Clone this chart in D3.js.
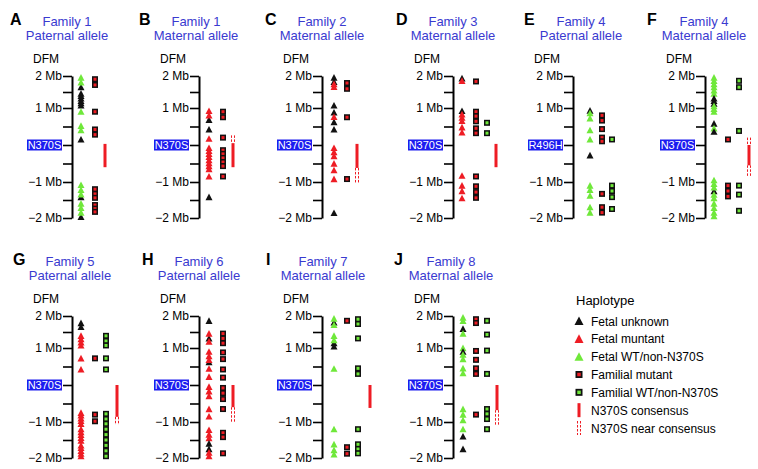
<!DOCTYPE html>
<html lang="en">
<head>
<meta charset="utf-8">
<title>Haplotype panels</title>
<script src="https://cdn.jsdelivr.net/npm/d3@7"></script>
<style>
  body { margin: 0; background: #fff; }
  svg { display: block; font-family: "Liberation Sans", Arial, Helvetica, sans-serif; }
</style>
</head>
<body>
<script>
// panel headings
var letters = ["A", "B", "C", "D", "E", "F", "G", "H", "I", "J"];
var families = ["Family 1", "Family 1", "Family 2", "Family 3", "Family 4", "Family 4", "Family 5", "Family 6", "Family 7", "Family 8"];
var alleles = ["Paternal allele", "Maternal allele", "Maternal allele", "Maternal allele", "Paternal allele",
  "Maternal allele", "Paternal allele", "Paternal allele", "Maternal allele", "Maternal allele"];
var mutations = ["N370S", "N370S", "N370S", "N370S", "R496H", "N370S", "N370S", "N370S", "N370S", "N370S"];
var tickValues = [2, 1.5, 1, 0.5, 0, -0.5, -1, -1.5, -2];
var tickLabels = ["2 Mb", "", "1 Mb", "", "", "", "\u22121 Mb", "", "\u22122 Mb"];

// fetal haplotypes (Mb from mutation): k = unknown, r = mutant, g = WT/non-N370S
var fetalA = [["k",1.65],["g",1.95],["g",1.8],["k",1.45],["k",1.38],["k",1.3],["k",1.22],["k",1.15],["k",1.08],["g",0.9],
  ["k",0.15],["g",0.52],["g",0.4],["k",-1.42],["g",-1.08],["g",-1.22],["g",-1.34],["k",-1.97],["g",-1.6],["g",-1.72],["g",-1.85]];
var fetalB = [["k",0.68],["r",0.92],["r",0.8],["k",0.42],["r",0.17],["r",-0.08],["r",-0.16],["r",-0.24],["r",-0.32],["r",-0.41],
  ["r",-0.49],["r",-0.57],["r",-0.65],["r",-0.85],["k",-1.42]];
var fetalC = [["k",1.95],["k",1.82],["r",1.75],["r",1.66],["k",1.08],["k",0.88],["k",0.62],["r",0.76],["k",0.42],["r",-0.08],
  ["r",-0.19],["r",-0.3],["r",-0.5],["r",-0.68],["r",-0.92],["k",-1.86]];
var fetalD = [["k",1.93],["r",1.85],["k",0.92],["r",0.83],["r",0.74],["r",0.65],["r",0.48],["r",0.34],["r",-0.83],["r",-1.1],
  ["r",-1.25],["r",-1.45]];
var fetalE = [["k",0.93],["g",0.86],["g",0.72],["g",0.4],["g",0.15],["k",-0.28],["g",-1.1],["g",-1.22],["g",-1.38],["g",-1.7],["g",-1.85]];
var fetalF = [["g",1.95],["g",1.85],["g",1.75],["g",1.65],["g",1.55],["g",1.45],["k",1.3],["k",1.22],["k",1.14],["g",1.06],
  ["g",0.98],["g",0.9],["k",0.58],["g",0.45],["k",0.36],["g",-0.95],["g",-1.05],["k",-1.25],["g",-1.15],["g",-1.35],
  ["g",-1.45],["g",-1.6],["g",-1.72],["g",-1.85],["g",-1.95]];
var fetalG = [["k",1.78],["k",1.66],["r",1.38],["r",1.28],["r",1.18],["r",1.08],["r",0.72],["r",0.42],["r",-0.75],["r",-0.82],
  ["r",-0.9],["r",-0.97],["r",-1.05],["r",-1.2],["r",-1.28],["r",-1.36],["r",-1.44],["r",-1.52],["r",-1.65],["r",-1.72],
  ["r",-1.8],["r",-1.88],["r",-1.95]];
var fetalH = [["k",1.85],["k",1.3],["r",1.45],["r",1.2],["k",0.62],["r",0.9],["r",0.78],["r",0.68],["r",0.44],["r",0.22],
  ["r",-0.05],["r",-0.17],["r",-0.3],["r",-0.65],["r",-0.85],["r",-1.22],["r",-1.35],["r",-1.45],["k",-1.6],["k",-1.75],
  ["r",-1.85],["r",-1.95]];
var fetalI = [["k",1.8],["g",1.92],["g",1.72],["k",1.15],["k",1.05],["g",1.38],["g",1.25],["g",0.44],["g",-1.2],["g",-1.62],
  ["g",-1.78],["g",-1.9]];
var fetalJ = [["g",1.95],["g",1.85],["k",1.6],["g",1.45],["g",1.0],["k",0.9],["g",0.82],["g",0.7],["g",0.45],["g",0.32],
  ["g",-0.65],["g",-0.8],["g",-0.95],["g",-1.2],["k",-1.4],["k",-1.75]];

// familial mutant haplotype markers
var famMutA = [1.9, 1.72, 0.9, 0.42, 0.28, -1.2, -1.33, -1.44, -1.64, -1.74, -1.83];
var famMutB = [0.9, 0.75, 0.2, -0.14, -0.24, -0.35, -0.46, -0.57, -0.85];
var famMutC = [1.78, 1.6, 0.75, -0.92];
var famMutD = [1.83, 0.9, 0.78, 0.64, 0.45, 0.32, -0.85, -1.12, -1.28, -1.44];
var famMutE = [0.8, 0.66, 0.43, 0.2, 0.1, -1.33, -1.7, -1.85];
var famMutF = [0.15, -1.1, -1.25, -1.4];
var famMutG = [0.72, -0.8, -0.98];
var famMutH = [1.45, 1.3, 1.15, 0.88, 0.7, 0.42, 0.2, -0.08, -0.22, -0.38, -0.65, -1.3, -1.42, -1.87];
var famMutI = [1.85, -1.7, -1.88];
var famMutJ = [1.9, 1.78, 0.92, 0.68, 0.45, 0.3, -0.8];

// familial WT/non-N370S markers
var famWtA = [];
var famWtB = [];
var famWtC = [];
var famWtD = [0.6, 0.32];
var famWtE = [0.15, -1.1, -1.25, -1.42, -1.75];
var famWtF = [1.85, 1.65, 0.38, -1.1, -1.35, -1.8];
var famWtG = [1.38, 1.22, 1.08, 0.72, 0.42, -0.78, -0.92, -1.05, -1.2, -1.35, -1.5, -1.65, -1.8, -1.95];
var famWtH = [];
var famWtI = [1.9, 1.75, 1.3, 0.45, 0.3, -1.2, -1.62, -1.75, -1.87];
var famWtJ = [1.85, 1.42, 0.93, 0.3, -0.65, -0.78, -0.92, -1.2];

// consensus [top, bottom] and near-consensus segments
var consA = [0.03, -0.6],  nearA = [];
var consB = [0.05, -0.6],  nearB = [[0.26, 0.05]];
var consC = [0.03, -0.62], nearC = [[-0.62, -1.03]];
var consD = [0.03, -0.6],  nearD = [];
var consE = null,          nearE = [];
var consF = [0.0, -0.55],  nearF = [[0.2, 0.0], [-0.55, -0.85]];
var consG = [0.0, -0.86],  nearG = [[-0.86, -1.08]];
var consH = [0.0, -0.6],   nearH = [[-0.6, -1.03]];
var consI = [0.0, -0.62],  nearI = [];
var consJ = [0.0, -0.68],  nearJ = [[-0.68, -1.08]];

var legendLabels = ["Fetal unknown", "Fetal muntant", "Fetal WT/non-N370S", "Familial mutant",
  "Familial WT/non-N370S", "N370S consensus", "N370S near consensus"];

// ---- layout ----
var w = 758, h = 469;
var colors = { k: "#111111", r: "#ee1c24", g: "#6fe83a" };
var titleBlue = "#3a3ad0", boxBlue = "#1c1cf0";

var fetal = [fetalA, fetalB, fetalC, fetalD, fetalE, fetalF, fetalG, fetalH, fetalI, fetalJ];
var famMut = [famMutA, famMutB, famMutC, famMutD, famMutE, famMutF, famMutG, famMutH, famMutI, famMutJ];
var famWt = [famWtA, famWtB, famWtC, famWtD, famWtE, famWtF, famWtG, famWtH, famWtI, famWtJ];
var cons = [consA, consB, consC, consD, consE, consF, consG, consH, consI, consJ];
var near = [nearA, nearB, nearC, nearD, nearE, nearF, nearG, nearH, nearI, nearJ];

var axisX = [72, 199, 322, 453, 573, 705, 72, 199, 322, 453];
var titleX = [67, 196, 322, 453, 581, 704, 70, 199, 323, 451];
// column offsets from axis: fetal, familial mutant, familial WT, consensus bar
var cols = [[9,23,0,33],[10,24,0,34],[12,25,0,35],[9,23,34,43],[17,29,39,0],
            [9,23,34,44],[9,23,34,45],[10,24,0,34],[12,25,36,48],[10,23,34,44]];

var svg = d3.select("body").append("svg")
  .attr("width", w)
  .attr("height", h);

function tri(x, y, s) {
  var hw = s / 2;
  return "M" + (x - hw) + "," + (y + s * 0.45) + "L" + (x + hw) + "," + (y + s * 0.45) + "L" + x + "," + (y - s * 0.5) + "Z";
}

function drawSquare(g, x, y, fill, size) {
  g.append("rect").attr("x", x - size / 2).attr("y", y - size / 2)
    .attr("width", size).attr("height", size).attr("fill", "#111");
  var inner = size * 0.5;
  g.append("rect").attr("x", x - inner / 2).attr("y", y - inner / 2)
    .attr("width", inner).attr("height", inner).attr("fill", fill);
}

function drawNear(g, x, y0, y1) {
  [-1.5, 1.5].forEach(function(dx) {
    g.append("line").attr("x1", x + dx).attr("x2", x + dx)
      .attr("y1", y0).attr("y2", y1)
      .attr("stroke", colors.r).attr("stroke-width", 1)
      .attr("stroke-dasharray", "2.5,1.5");
  });
}

letters.forEach(function(letter, i) {
  var dy = i < 6 ? 0 : 240;
  var ax = axisX[i];
  var g = svg.append("g");

  var y = d3.scaleLinear()
    .domain([-2, -1, 0, 1, 2])
    .range([218 + dy, 182 + dy, 145 + dy, 108 + dy, 76 + dy]);

  // headings
  g.append("text").attr("x", titleX[i] - 57).attr("y", 25 + dy)
    .attr("font-size", 16).attr("font-weight", "bold").attr("fill", "#000").text(letter);
  g.append("text").attr("x", titleX[i]).attr("y", 26 + dy).attr("text-anchor", "middle")
    .attr("font-size", 13).attr("fill", titleBlue).text(families[i]);
  g.append("text").attr("x", titleX[i]).attr("y", 40 + dy).attr("text-anchor", "middle")
    .attr("font-size", 13).attr("fill", titleBlue).text(alleles[i]);
  g.append("text").attr("x", ax - 26).attr("y", 63 + dy).attr("text-anchor", "middle")
    .attr("font-size", 12).attr("fill", "#000").text("DFM");

  // axis
  var axis = d3.axisLeft(y)
    .tickValues(tickValues)
    .tickSize(9)
    .tickSizeOuter(0)
    .tickPadding(1)
    .tickFormat(function(d, j) { return tickLabels[j]; });
  var ag = g.append("g").attr("transform", "translate(" + ax + ",0)").call(axis);
  ag.attr("font-size", 12).attr("font-family", null);
  ag.select(".domain").attr("stroke-width", 2).attr("stroke", "#000");
  ag.selectAll(".tick line").attr("stroke-width", 1.6).attr("stroke", "#000");
  ag.selectAll(".tick text").attr("fill", "#000");

  // mutation box
  g.append("rect").attr("x", ax - 45).attr("y", y(0) - 5.5)
    .attr("width", 35).attr("height", 11).attr("fill", boxBlue);
  g.append("text").attr("x", ax - 27.5).attr("y", y(0) + 4).attr("text-anchor", "middle")
    .attr("font-size", 11).attr("fill", "#fff").text(mutations[i]);

  // fetal triangles
  g.selectAll("path.fetal").data(fetal[i]).enter().append("path")
    .attr("class", "fetal")
    .attr("d", function(d) { return tri(ax + cols[i][0], y(d[1]), 7); })
    .attr("fill", function(d) { return colors[d[0]]; });

  // familial squares
  famMut[i].forEach(function(v) { drawSquare(g, ax + cols[i][1], y(v), colors.r, 6); });
  famWt[i].forEach(function(v) { drawSquare(g, ax + cols[i][2], y(v), colors.g, 6); });

  // consensus
  if (cons[i]) {
    var bx = ax + cols[i][3];
    g.append("rect").attr("x", bx - 1.5).attr("y", y(cons[i][0]))
      .attr("width", 3).attr("height", y(cons[i][1]) - y(cons[i][0]))
      .attr("fill", colors.r);
    near[i].forEach(function(s) { drawNear(g, bx, y(s[0]), y(s[1])); });
  }
});

// legend
var lg = svg.append("g");
var lx = 579;
lg.append("text").attr("x", lx - 3).attr("y", 305).attr("font-size", 13).attr("fill", "#000").text("Haplotype");
var ly = d3.scaleLinear().domain([0, 6]).range([321, 428]);
legendLabels.forEach(function(label, j) {
  var yy = ly(j);
  if (j < 3) {
    lg.append("path").attr("d", tri(lx, yy, 9)).attr("fill", [colors.k, colors.r, colors.g][j]);
  } else if (j < 5) {
    drawSquare(lg, lx, yy, j === 3 ? colors.r : colors.g, 7);
  } else if (j === 5) {
    lg.append("rect").attr("x", lx - 1.5).attr("y", yy - 7).attr("width", 3).attr("height", 14).attr("fill", colors.r);
  } else {
    drawNear(lg, lx, yy - 7, yy + 7);
  }
  lg.append("text").attr("x", lx + 12).attr("y", yy + 4.5).attr("font-size", 12).attr("fill", "#000").text(label);
});
</script>
</body>
</html>
